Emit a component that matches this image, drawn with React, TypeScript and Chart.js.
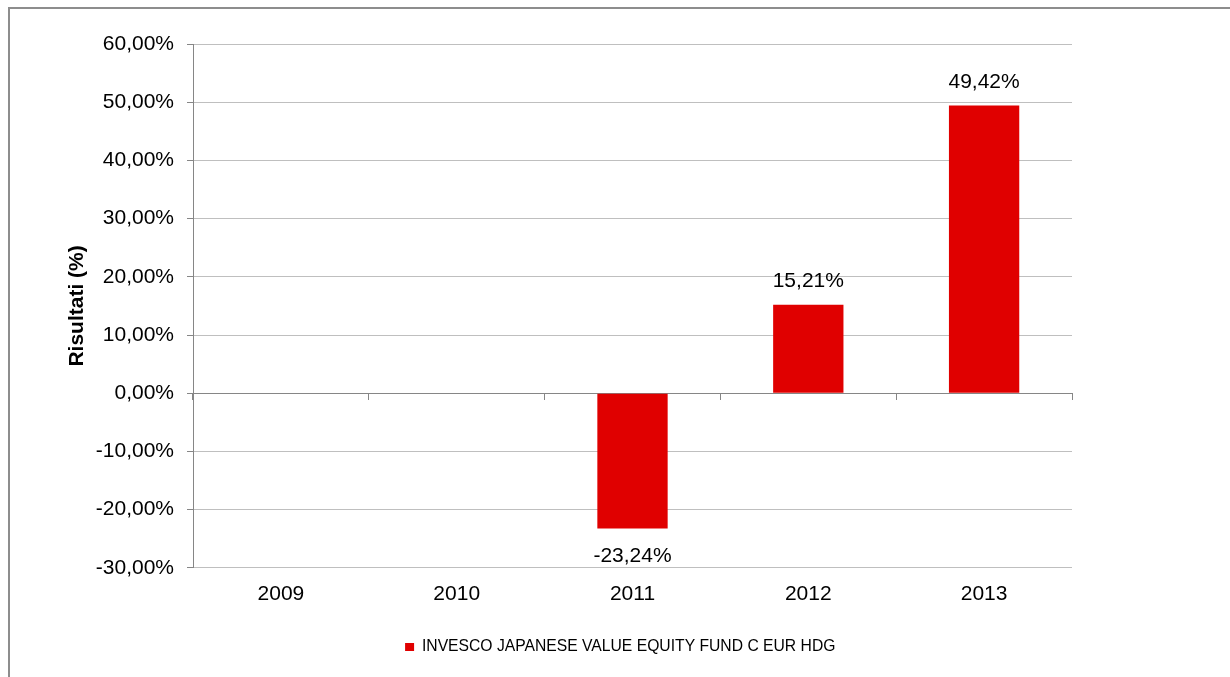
import React, { useEffect, useRef } from "react";
import { Chart, registerables } from "chart.js";

Chart.register(...registerables);

const categories: string[] = ["2009", "2010", "2011", "2012", "2013"];
const fundReturns: (number | null)[] = [null, null, -23.24, 15.21, 49.42];
const seriesName = "INVESCO JAPANESE VALUE EQUITY FUND C EUR HDG";
const axisTitle = "Risultati (%)";
const yMin = -30;
const yMax = 60;
const yStep = 10;

const FONT = '"Liberation Sans", Arial, Helvetica, sans-serif';
const BAR_RED = "#E00000";
const GRID = "#bfbfbf";
const AXIS = "#868686";

const fmtPct = (v: number) => v.toFixed(2).replace(".", ",") + "%";

const framePlugin = {
  id: "frame",
  beforeDraw(chart: any) {
    const { ctx, width, height } = chart;
    ctx.save();
    ctx.fillStyle = "#ffffff";
    ctx.fillRect(0, 0, width, height);
    ctx.strokeStyle = "#8d8d8d";
    ctx.lineWidth = 2;
    ctx.beginPath();
    ctx.moveTo(9, height);
    ctx.lineTo(9, 8);
    ctx.lineTo(width, 8);
    ctx.stroke();
    ctx.restore();
  },
};

const valueLabelPlugin = {
  id: "valueLabels",
  afterDatasetsDraw(chart: any) {
    const { ctx } = chart;
    const meta = chart.getDatasetMeta(0);
    const values = chart.data.datasets[0].data as (number | null)[];
    ctx.save();
    ctx.font = `21px ${FONT}`;
    ctx.fillStyle = "#000000";
    ctx.textAlign = "center";
    ctx.textBaseline = "middle";
    meta.data.forEach((el: any, i: number) => {
      const v = values[i];
      if (v === null || v === undefined) return;
      const y = v >= 0 ? el.y - 23.5 : el.y + 27.5;
      ctx.fillText(fmtPct(v), el.x, y);
    });
    ctx.restore();
  },
};

export default function App() {
  const canvasRef = useRef<HTMLCanvasElement | null>(null);

  useEffect(() => {
    if (!canvasRef.current) return;
    const chart = new Chart(canvasRef.current, {
      type: "bar",
      data: {
        labels: categories,
        datasets: [
          {
            label: seriesName,
            data: fundReturns,
            backgroundColor: BAR_RED,
            borderWidth: 0,
            categoryPercentage: 1,
            barPercentage: 0.4,
          },
        ],
      },
      options: {
        animation: false,
        responsive: false,
        events: [],
        layout: {
          padding: { left: 50, right: 39.5, top: 44, bottom: 12.25 },
        },
        plugins: {
          tooltip: { enabled: false },
          legend: {
            display: true,
            position: "bottom",
            align: "center",
            labels: {
              boxWidth: 9,
              boxHeight: 8,
              padding: 10,
              color: "#000000",
              font: { family: FONT, size: 15.7 },
            },
          },
        },
        scales: {
          x: {
            type: "category",
            position: "bottom",
            offset: true,
            grid: { display: false, drawTicks: false },
            border: { display: false },
            ticks: {
              color: "#000000",
              font: { family: FONT, size: 21 },
              padding: 13.4,
              maxRotation: 0,
              autoSkip: false,
            },
            afterFit(scale: any) {
              scale.height = 61.25;
            },
          },
          x2: {
            type: "category",
            position: { y: 0 },
            offset: true,
            grid: {
              offset: true,
              drawOnChartArea: false,
              drawTicks: true,
              tickLength: 6,
              tickColor: AXIS,
              color: AXIS,
            },
            border: { display: true, color: AXIS, width: 1 },
            ticks: { display: false },
          },
          y: {
            type: "linear",
            position: "left",
            min: yMin,
            max: yMax,
            ticks: {
              stepSize: yStep,
              color: "#000000",
              font: { family: FONT, size: 21 },
              padding: 13,
              callback: (v: any) => fmtPct(Number(v)),
            },
            grid: {
              color: GRID,
              tickColor: AXIS,
              tickLength: 6,
              drawTicks: true,
            },
            border: { display: true, color: AXIS, width: 1 },
            title: {
              display: true,
              text: axisTitle,
              color: "#000000",
              font: { family: FONT, size: 21, weight: "bold" },
              padding: { top: 14.4, bottom: 4 },
            },
            afterFit(scale: any) {
              scale.width = 143;
            },
          },
          yRightSpace: {
            type: "linear",
            position: "right",
            display: true,
            grid: { display: false, drawTicks: false },
            border: { display: false },
            ticks: { display: false },
            afterFit(scale: any) {
              scale.width = 118.5;
            },
          },
        },
      },
      plugins: [framePlugin, valueLabelPlugin],
    } as any);
    return () => chart.destroy();
  }, []);

  return (
    <div style={{ position: "absolute", left: 0, top: 0, width: 1230, height: 677, background: "#fff" }}>
      <canvas ref={canvasRef} width={1230} height={677} style={{ display: "block" }} />
    </div>
  );
}
